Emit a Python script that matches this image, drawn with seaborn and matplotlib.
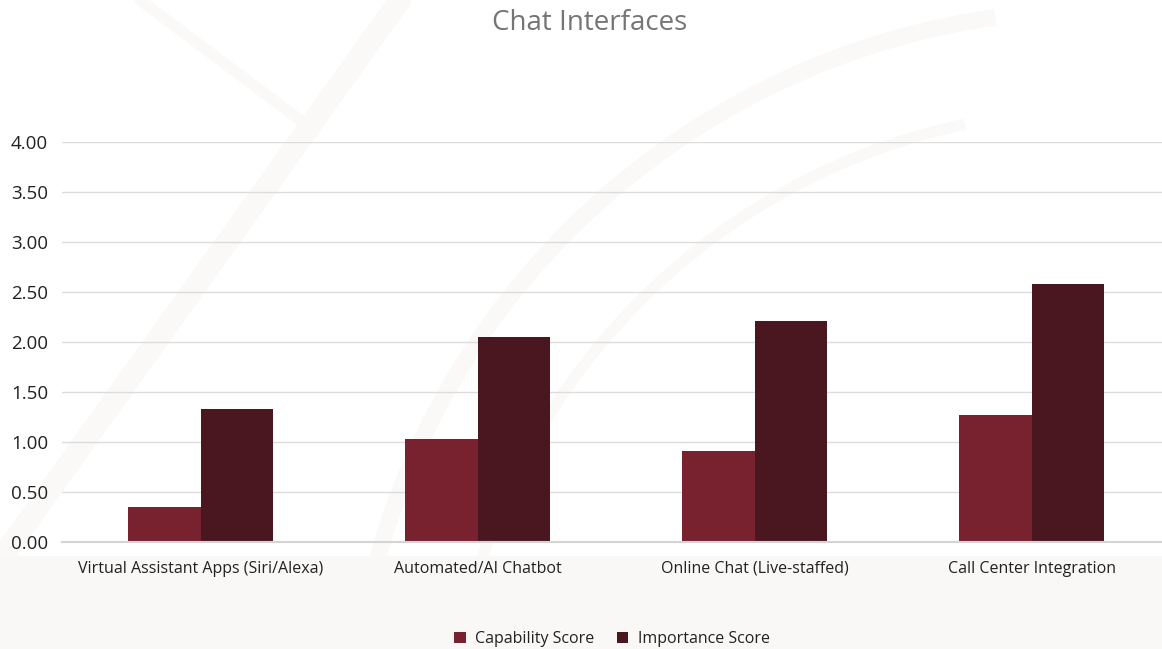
import matplotlib
matplotlib.use("Agg")
import matplotlib.pyplot as plt
from matplotlib.patches import Rectangle, Arc
from matplotlib.lines import Line2D
import seaborn as sns
import pandas as pd

# Chart data
categories = ["Virtual Assistant Apps (Siri/Alexa)", "Automated/AI Chatbot",
              "Online Chat (Live-staffed)", "Call Center Integration"]
capability_scores = [0.35, 1.03, 0.91, 1.27]
importance_scores = [1.33, 2.05, 2.21, 2.58]
series_names = ["Capability Score", "Importance Score"]
y_ticks = [0.0, 0.5, 1.0, 1.5, 2.0, 2.5, 3.0, 3.5, 4.0]

colors = ["#78212F", "#4A161F"]

df = pd.DataFrame({
    "category": categories * 2,
    "score": capability_scores + importance_scores,
    "series": [series_names[0]] * len(categories) + [series_names[1]] * len(categories),
})

sns.set_theme(style="white")
plt.rcParams["font.family"] = ["Open Sans", "DejaVu Sans"]

fig = plt.figure(figsize=(11.62, 6.49), dpi=100)
fig.patch.set_facecolor("white")

# light footer band behind the category labels and legend
fig.add_artist(Rectangle((0, 0), 1, 93 / 649, transform=fig.transFigure,
                         facecolor="#F9F8F6", edgecolor="none", zorder=0))

# very faint decorative watermark strokes
wm = "#FAF9F7"
bg = fig.add_axes([0, 0, 1, 1], zorder=-1)
bg.set_xlim(0, 1162)
bg.set_ylim(649, 0)
bg.axis("off")
bg.add_patch(Arc((1100, 760), 1500, 1500, theta1=180, theta2=262, color=wm, lw=12))
bg.add_patch(Arc((1100, 760), 1300, 1300, theta1=182, theta2=258, color=wm, lw=8))
bg.add_line(Line2D([0, 400], [560, 0], color=wm, lw=16))
bg.add_line(Line2D([140, 300], [0, 120], color=wm, lw=8))

ax = fig.add_axes([62 / 1162, (649 - 542) / 649, 1108 / 1162, 400 / 649])
ax.patch.set_alpha(0)

sns.barplot(data=df, x="category", y="score", hue="series", palette=colors,
            width=0.527, dodge=True, saturation=1, ax=ax, legend=False,
            edgecolor="none", zorder=3)

ax.set_xlim(-0.5, 3.5)
ax.set_ylim(0, 4.0)
ax.set_yticks(y_ticks)
ax.set_yticklabels([f"{v:.2f}" for v in y_ticks], fontsize=13.5, color="#222222")
ax.tick_params(axis="y", length=0, pad=10)
ax.tick_params(axis="x", length=0, pad=13.5, labelsize=11.5, labelcolor="#222222")
ax.set_xlabel("")
ax.set_ylabel("")
ax.yaxis.grid(True, color="#DCDCDC", lw=1, zorder=0)
ax.set_axisbelow(True)
for s in ["top", "right", "left"]:
    ax.spines[s].set_visible(False)
ax.spines["bottom"].set_color("#D4D4D4")
ax.spines["bottom"].set_linewidth(1.5)
ax.spines["bottom"].set_zorder(4)

fig.text(590 / 1162, 1 - 23 / 649, "Chat Interfaces", ha="center", va="center",
         fontsize=20, color="#757575")

handles = [Rectangle((0, 0), 1, 1, facecolor=c, edgecolor="none") for c in colors]
fig.legend(handles, series_names, loc="center", bbox_to_anchor=(612 / 1162, 1 - 639 / 649),
           ncol=2, frameon=False, fontsize=11.5, handlelength=0.7, handleheight=0.7,
           handletextpad=0.6, columnspacing=1.4, labelcolor="#222222")

fig.savefig("out.png", dpi=100, facecolor=fig.get_facecolor())
